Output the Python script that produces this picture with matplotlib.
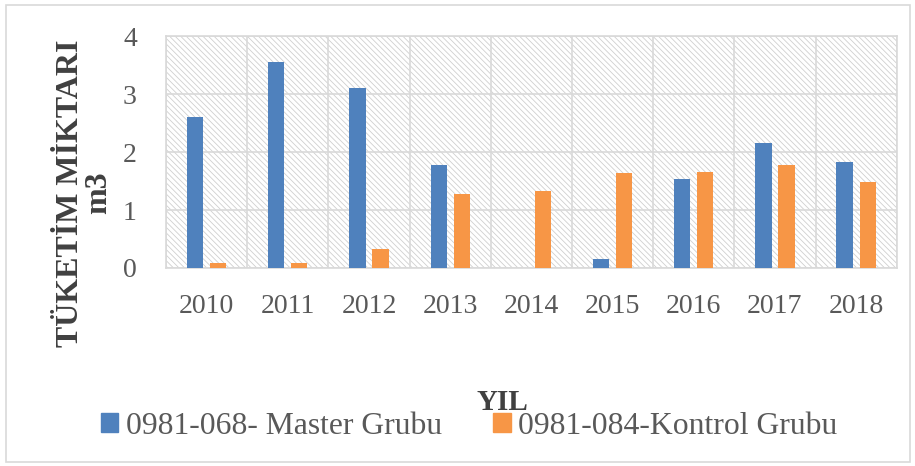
import matplotlib.pyplot as plt
import numpy as np
from matplotlib.patches import Rectangle, Patch

# veriler
yillar = ['2010', '2011', '2012', '2013', '2014', '2015', '2016', '2017', '2018']
master = [2.6, 3.55, 3.1, 1.77, 0.0, 0.15, 1.54, 2.15, 1.82]
kontrol = [0.09, 0.09, 0.32, 1.28, 1.33, 1.63, 1.65, 1.77, 1.48]
seri_adlari = ['0981-068- Master Grubu', '0981-084-Kontrol Grubu']

mavi = '#4f81bd'
turuncu = '#f79646'
gri = '#595959'

plt.rcParams['font.family'] = ['Liberation Serif', 'DejaVu Serif']
plt.rcParams['hatch.color'] = '#d0d0d0'
plt.rcParams['hatch.linewidth'] = 0.6

fig = plt.figure(figsize=(9.15, 4.66), dpi=100)
ax = fig.add_axes([0.1814, 0.4249, 0.7986, 0.4978])

# dis cerceve
fig.patches.append(Rectangle((0.007, 0.008), 0.988, 0.982, transform=fig.transFigure,
                             fill=False, edgecolor='#d9d9d9', linewidth=1.2))

# tarali arka plan
ax.add_patch(Rectangle((0, 0), 1, 1, transform=ax.transAxes, facecolor='white',
                       edgecolor='#cfcfcf', hatch='\\\\\\\\\\\\', linewidth=0, zorder=0))

x = np.arange(len(yillar))
w = 0.2
ax.bar(x - 0.142, master, w, color=mavi, zorder=3)
ax.bar(x + 0.142, kontrol, w, color=turuncu, zorder=3)

ax.set_xlim(-0.5, len(yillar) - 0.5)
ax.set_ylim(0, 4)
ax.set_yticks([0, 1, 2, 3, 4])
ax.set_xticks(x)
ax.set_xticklabels(yillar)
ax.set_xticks(np.arange(len(yillar) + 1) - 0.5, minor=True)
ax.grid(True, which='minor', axis='x', color='#d9d9d9', linewidth=1.2, zorder=1)
ax.grid(True, which='major', axis='y', color='#d9d9d9', linewidth=1.2, zorder=1)
ax.set_axisbelow(True)
ax.tick_params(which='both', length=0)
ax.tick_params(axis='x', pad=19, labelsize=20, labelcolor=gri)
ax.tick_params(axis='y', pad=21, labelsize=20, labelcolor=gri)
for s in ax.spines.values():
    s.set_color('#d9d9d9')
    s.set_linewidth(1.2)

# eksen basliklari
fig.text(0.092, 0.586, 'TÜKETİM MİKTARI\nm3', rotation=90, fontsize=23, fontweight='bold',
         color='#404040', ha='center', va='center', multialignment='center', linespacing=0.95)
fig.text(0.549, 0.137, 'YIL', fontsize=21, fontweight='bold', color='#404040',
         ha='center', va='center')

handles = [Patch(color=mavi), Patch(color=turuncu)]
fig.legend(handles, seri_adlari, loc='center', bbox_to_anchor=(0.513, 0.085), ncol=2,
           frameon=False, fontsize=22.8, labelcolor=gri, handlelength=0.55, handleheight=0.55,
           handletextpad=0.25, columnspacing=1.6, borderaxespad=0)

fig.savefig('out.png', dpi=100)
